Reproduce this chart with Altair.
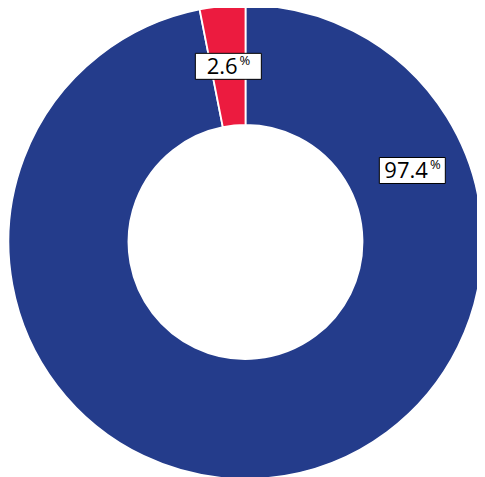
import math
import altair as alt
import pandas as pd

categories = ["Main", "Other"]
values = [96.9, 3.1]          # slice sizes as drawn
label_texts = ["97.4", "2.6"]  # printed labels
colors = ["#243C8B", "#EC1B3F"]

W, H = 469, 469
cx, cy = 237.5, 234
R_OUT, R_IN = 237, 117
FS = 22

df = pd.DataFrame({"cat": categories, "value": values, "order": [0, 1], "label": label_texts})

total = sum(values)
spans = []
acc = 0
for v in values:
    spans.append((acc / total * 360, (acc + v) / total * 360))
    acc += v
lab_angle = [66.8, (spans[1][0] + spans[1][1]) / 2]
lab_r = [181.5, 176.5]
df["px"] = [cx + r * math.sin(math.radians(a)) for a, r in zip(lab_angle, lab_r)]
df["py"] = [cy - r * math.cos(math.radians(a)) for a, r in zip(lab_angle, lab_r)]


def text_w(s):
    return sum(0.267 * FS if ch == "." else 0.572 * FS for ch in s)


pct_w, gap = 10.5, 2
df["numw"] = [text_w(s) for s in label_texts]
df["nx"] = df["px"] - (df["numw"] + gap + pct_w) / 2 + df["numw"]

base = alt.Chart(df)

arcs = base.mark_arc(innerRadius=R_IN, outerRadius=R_OUT, stroke="white", strokeWidth=1.8).encode(
    theta=alt.Theta("value:Q", stack=True),
    order=alt.Order("order:Q"),
    color=alt.Color("cat:N", scale=alt.Scale(domain=categories, range=colors), legend=None),
    x=alt.value(cx),
    y=alt.value(cy),
)

boxes = base.transform_calculate(
    x0="datum.px - 33", x1="datum.px + 33", y0="datum.py - 13", y1="datum.py + 13"
).mark_rect(fill="white", stroke="black", strokeWidth=1).encode(
    x=alt.X("x0:Q", scale=None), x2="x1:Q",
    y=alt.Y("y0:Q", scale=None), y2="y1:Q",
)

nums = base.transform_calculate(ty="datum.py + 1").mark_text(
    align="right", baseline="middle", fontSize=FS, font="Open Sans", color="black"
).encode(x=alt.X("nx:Q", scale=None), y=alt.Y("ty:Q", scale=None), text="label:N")

pct = base.transform_calculate(tx="datum.nx + 2", ty="datum.py - 5").mark_text(
    align="left", baseline="middle", fontSize=13, font="Open Sans", color="black"
).encode(x=alt.X("tx:Q", scale=None), y=alt.Y("ty:Q", scale=None), text=alt.value("%"))

chart = alt.layer(arcs, boxes, nums, pct).properties(
    width=W, height=H, padding=0, autosize=alt.AutoSizeParams(type="none"),
    view=alt.ViewBackground(stroke="transparent", strokeWidth=0),
).configure_view(stroke="transparent", strokeWidth=0).configure(background="white")

chart.save("out.html", embed_options={"renderer": "svg", "actions": False})
